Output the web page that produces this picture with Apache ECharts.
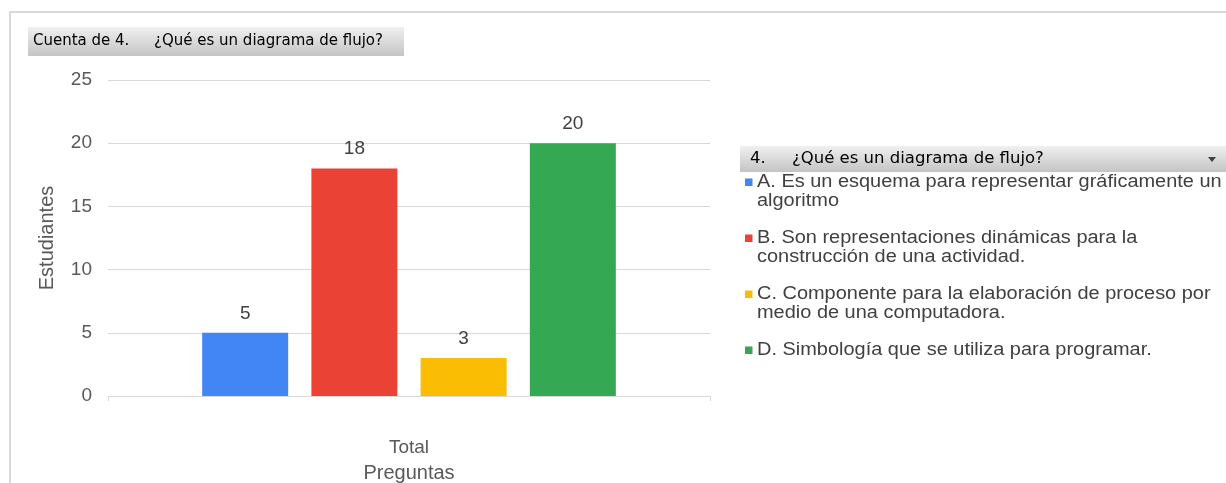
<!DOCTYPE html>
<html>
<head>
<meta charset="utf-8">
<script src="https://cdn.jsdelivr.net/npm/echarts@6/dist/echarts.min.js"></script>
<style>
  html, body { margin: 0; padding: 0; background: #fff; }
  #chart { width: 1226px; height: 483px; }
</style>
</head>
<body>
<div id="chart"></div>
<script>
// datos
const categories = ['Total']
const seriesNames = [
  'A. Es un esquema para representar gráficamente un\nalgoritmo',
  'B. Son representaciones dinámicas para la\nconstrucción de una actividad.',
  'C. Componente para la elaboración de proceso por\nmedio de una computadora.',
  'D. Simbología que se utiliza para programar.',
]
const seriesValues = [[5], [18], [3], [20]]
const colors = ['#4285F4', '#EA4335', '#FBBC04', '#34A853']
const titleParts = ['Cuenta de 4.', '¿Qué es un diagrama de flujo?']
const legendTitleParts = ['4.', '¿Qué es un diagrama de flujo?']
const yName = 'Estudiantes'
const xName = 'Preguntas'

const chart = echarts.init(document.getElementById('chart'))

const grayBar = {
  type: 'linear', x: 0, y: 0, x2: 0, y2: 1,
  colorStops: [
    { offset: 0, color: '#f0f0f0' },
    { offset: 1, color: '#c4c4c4' },
  ],
}
const tahoma = '"DejaVu Sans", Tahoma, sans-serif'
const arial = '"Liberation Sans", Arial, sans-serif'

// leyenda dibujada a mano para que el cuadro quede en la primera línea
const legendItems = []
let ly = 182
seriesNames.forEach((name, i) => {
  const lines = name.split('\n').length
  legendItems.push({
    type: 'rect',
    shape: { x: 745, y: ly - 3.5, width: 7.5, height: 7.5 },
    style: { fill: colors[i] },
  })
  legendItems.push({
    type: 'text',
    x: 757,
    y: ly - 9.5,
    scaleX: 1.14,
    style: {
      text: name,
      font: '17.5px ' + arial,
      fill: '#404040',
      lineHeight: 19,
    },
  })
  ly += lines * 19 + 18
})

const option = {
  animation: false,
  color: colors,
  grid: { left: 108, right: 516, top: 80, bottom: 87, outerBoundsMode: 'none' },
  xAxis: {
    type: 'category',
    data: categories,
    name: xName,
    nameLocation: 'middle',
    nameGap: 67,
    nameTextStyle: { fontSize: 20, color: '#595959', fontFamily: 'Liberation Sans' },
    axisLine: { lineStyle: { color: '#d9d9d9' } },
    axisTick: { show: true, length: 5, lineStyle: { color: '#d9d9d9' } },
    axisLabel: { fontSize: 19, color: '#595959', margin: 42, fontFamily: 'Liberation Sans' },
  },
  yAxis: {
    type: 'value',
    min: 0,
    max: 25,
    interval: 5,
    name: yName,
    nameLocation: 'middle',
    nameGap: 51,
    nameTextStyle: { fontSize: 20, color: '#595959', fontFamily: 'Liberation Sans' },
    axisLabel: { fontSize: 19, color: '#595959', margin: 16, fontFamily: 'Liberation Sans' },
    splitLine: { lineStyle: { color: '#d9d9d9' } },
    axisLine: { show: false },
    axisTick: { show: false },
  },
  series: seriesNames.map((name, i) => ({
    type: 'bar',
    name: name,
    data: seriesValues[i],
    barWidth: 86,
    barGap: '27%',
    label: {
      show: true,
      position: 'top',
      distance: 10,
      fontSize: 19,
      color: '#404040',
      fontFamily: 'Liberation Sans',
    },
  })),
  graphic: [
    // marco exterior
    {
      type: 'polyline',
      shape: { points: [[10, 483], [10, 12], [1226, 12]] },
      style: { stroke: '#d9d9d9', lineWidth: 2, fill: null },
    },
    // caja del título
    {
      type: 'rect',
      shape: { x: 28, y: 27, width: 376, height: 29 },
      style: { fill: grayBar },
    },
    {
      type: 'text', x: 33, y: 41,
      style: { text: titleParts[0], font: '15px ' + tahoma, fill: '#000', verticalAlign: 'middle' },
    },
    {
      type: 'text', x: 154, y: 41,
      style: { text: titleParts[1], font: '15px ' + tahoma, fill: '#000', verticalAlign: 'middle' },
    },
    // cabecera de la leyenda
    {
      type: 'rect',
      shape: { x: 740, y: 146, width: 486, height: 26 },
      style: { fill: grayBar },
    },
    {
      type: 'text', x: 750, y: 159,
      style: { text: legendTitleParts[0], font: '16.5px ' + tahoma, fill: '#000', verticalAlign: 'middle' },
    },
    {
      type: 'text', x: 792, y: 159,
      style: { text: legendTitleParts[1], font: '16.5px ' + tahoma, fill: '#000', verticalAlign: 'middle' },
    },
    {
      type: 'polygon',
      shape: { points: [[1208, 157], [1216, 157], [1212, 162]] },
      style: { fill: '#404040' },
    },
    ...legendItems,
  ],
}

chart.setOption(option)
</script>
</body>
</html>
